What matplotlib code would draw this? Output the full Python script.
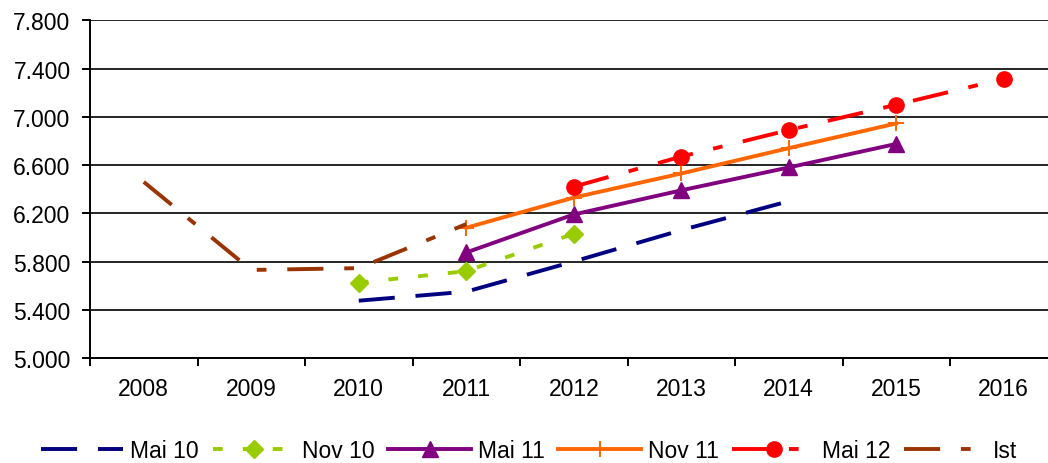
import matplotlib
matplotlib.use("Agg")
import matplotlib.pyplot as plt
from matplotlib.ticker import FixedLocator, FuncFormatter

plt.rcParams["font.family"] = ["Liberation Sans", "DejaVu Sans"]
plt.rcParams["lines.scale_dashes"] = False

YEARS = ["2008", "2009", "2010", "2011", "2012", "2013", "2014", "2015", "2016"]

# values in thousands (axis shows 5.000 ... 7.800)
mai10_years = ["2010", "2011", "2012", "2013", "2014"]
mai10_vals = [5475, 5550, 5800, 6060, 6300]

nov10_years = ["2010", "2011", "2012"]
nov10_vals = [5625, 5720, 6030]

mai11_years = ["2011", "2012", "2013", "2014", "2015"]
mai11_vals = [5875, 6190, 6390, 6580, 6775]

nov11_years = ["2011", "2012", "2013", "2014", "2015"]
nov11_vals = [6080, 6330, 6530, 6740, 6945]

mai12_years = ["2012", "2013", "2014", "2015", "2016"]
mai12_vals = [6420, 6670, 6890, 7100, 7315]

ist_years = ["2008", "2009", "2010", "2011"]
ist_vals = [6460, 5730, 5745, 6110]

Y_TICKS = [5000, 5400, 5800, 6200, 6600, 7000, 7400, 7800]

FS = 16.5
LW = 2.8

W, H = 1048, 464
fig = plt.figure(figsize=(W / 100, H / 100), dpi=100)
ax = fig.add_axes([90 / W, (H - 359) / H, 967.5 / W, 337.7 / H])


def xs(years):
    return [YEARS.index(y) for y in years]


ax.plot(xs(mai10_years), mai10_vals, color="#000080", lw=LW,
        ls=(0, (26, 15)), label="Mai 10")
ax.plot(xs(nov10_years), nov10_vals, color="#99CC00", lw=LW,
        ls=(0, (7, 14.5)), marker="D", ms=9, label="Nov 10")
ax.plot(xs(mai11_years), mai11_vals, color="#800080", lw=LW,
        marker="^", ms=11, label="Mai 11")
ax.plot(xs(nov11_years), nov11_vals, color="#FF6600", lw=LW,
        marker="+", ms=11, mew=1.4, label="Nov 11")
ax.plot(xs(mai12_years), mai12_vals, color="#FF0000", lw=LW,
        ls=(0, (26, 15, 7, 15)), marker="o", ms=11, label="Mai 12")
ax.plot(xs(ist_years), ist_vals, color="#993300", lw=LW,
        ls=(0, (26, 15, 7, 15)), label="Ist")

ax.set_xlim(-0.5, len(YEARS) - 0.5)
ax.set_ylim(Y_TICKS[0], Y_TICKS[-1])

ax.set_xticks(range(len(YEARS)))
ax.set_xticklabels(YEARS, fontsize=FS)
ax.xaxis.set_minor_locator(FixedLocator([i - 0.5 for i in range(len(YEARS) + 1)]))
ax.tick_params(axis="x", which="major", length=0, pad=14)
ax.tick_params(axis="x", which="minor", length=6, width=1.4, direction="out")

ax.set_yticks(Y_TICKS)
ax.yaxis.set_major_formatter(FuncFormatter(lambda v, p: f"{v:,.0f}".replace(",", ".")))
ax.tick_params(axis="y", labelsize=FS, length=6, width=1.4, pad=8)

ax.grid(axis="y", color="black", lw=1.2)
ax.set_axisbelow(True)
for side in ["top", "right"]:
    ax.spines[side].set_visible(False)
for side in ["left", "bottom"]:
    ax.spines[side].set_linewidth(1.4)

fig.legend(loc="center", bbox_to_anchor=(0.505, 1 - 452 / H), ncol=6,
           frameon=False, fontsize=FS, handlelength=3.6, handletextpad=0.3,
           columnspacing=0.6, borderaxespad=0)

fig.savefig("out.png", dpi=100)
